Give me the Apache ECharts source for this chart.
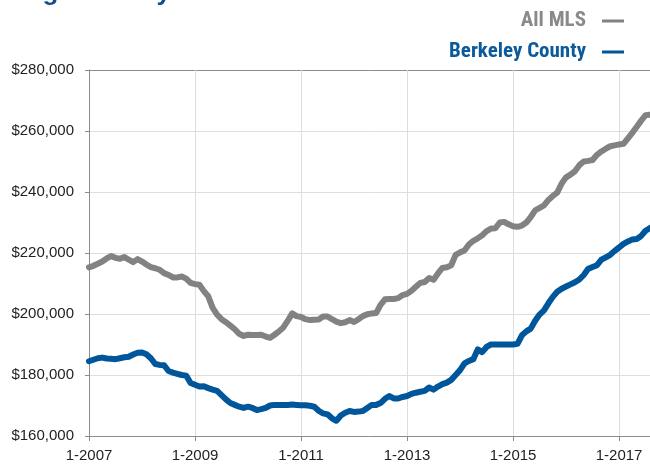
<!DOCTYPE html>
<html>
<head>
<meta charset="utf-8">
<script src="https://cdn.jsdelivr.net/npm/echarts@6/dist/echarts.min.js"></script>
<style>
html,body{margin:0;padding:0;background:#fff;}
#chart{width:650px;height:466px;}
</style>
</head>
<body>
<div id="chart"></div>
<script>
// Monthly data, Jan 2007 .. Aug 2017
var startYear = 2007;
var monthCount = 128;
var yTicks = [160000, 180000, 200000, 220000, 240000, 260000, 280000];

var allMLS = [
215.3,215.8,216.5,217.2,218.2,219.0,218.4,218.1,218.7,217.8,217.0,218.0,
217.2,216.2,215.4,215.0,214.5,213.4,212.8,212.0,212.0,212.3,211.6,210.2,
209.8,209.6,207.5,205.8,202.0,199.8,198.3,197.3,196.2,195.0,193.5,192.8,
193.2,193.1,193.1,193.2,192.6,192.2,193.2,194.3,195.6,197.8,200.2,199.3,
199.0,198.3,198.0,198.1,198.2,199.2,199.2,198.3,197.5,197.0,197.3,198.0,
197.4,198.3,199.3,199.9,200.2,200.3,203.0,204.8,204.9,204.9,205.2,206.2,
206.6,207.6,208.9,210.2,210.5,211.8,211.2,213.3,215.1,215.3,216.0,219.4,
220.2,220.8,222.8,224.0,224.8,225.8,227.2,228.0,228.1,230.0,230.2,229.4,
228.8,228.6,229.0,230.0,231.8,234.0,234.8,235.6,237.4,238.7,239.8,242.8,
244.8,245.7,246.8,248.8,250.0,250.2,250.5,252.2,253.3,254.2,255.0,255.3,
255.6,255.8,257.6,259.4,261.4,263.4,265.2,265.3
];

var berkeley = [
184.5,185.0,185.5,185.7,185.4,185.3,185.2,185.5,185.8,186.0,186.7,187.3,
187.4,186.8,185.5,183.6,183.3,183.2,181.3,180.8,180.4,180.0,179.8,177.4,
176.8,176.2,176.3,175.7,175.2,174.8,173.4,172.0,170.8,170.2,169.6,169.2,
169.6,169.2,168.5,168.8,169.2,170.0,170.2,170.2,170.2,170.2,170.3,170.2,
170.1,170.1,169.9,169.6,168.3,167.4,167.1,165.8,165.0,166.7,167.6,168.2,
167.9,168.0,168.2,169.2,170.2,170.2,170.8,172.2,173.1,172.3,172.3,172.8,
173.1,173.8,174.2,174.5,174.8,175.9,175.2,176.2,177.0,177.5,178.4,180.0,
181.6,183.8,184.6,185.2,188.4,187.5,189.2,190.0,190.0,190.0,190.0,190.0,
190.0,190.2,193.0,194.3,195.2,197.8,199.8,201.2,203.5,205.6,207.3,208.3,
209.0,209.7,210.4,211.3,212.8,214.8,215.4,216.0,217.8,218.6,219.4,220.7,
221.8,223.0,223.8,224.4,224.6,225.6,227.3,228.2
];

var seriesNames = ['All MLS', 'Berkeley County'];
var titleText = 'Single-Family Detached';

var categories = [];
for (var i = 0; i < monthCount; i++) {
  categories.push(((i % 12) + 1) + '-' + (startYear + Math.floor(i / 12)));
}

var chart = echarts.init(document.getElementById('chart'));
var font = '"Liberation Sans", Arial, Helvetica, sans-serif';
chart.setOption({
  animation: false,
  backgroundColor: '#fff',
  graphic: [{
    type: 'text',
    left: 2,
    top: -20,
    style: {
      text: titleText,
      font: 'bold 26px "Liberation Sans", Arial, sans-serif',
      fill: '#0d4f8b'
    }
  }],
  legend: {
    orient: 'vertical',
    align: 'right',
    right: 26,
    top: 10,
    padding: 0,
    itemWidth: 22,
    itemHeight: 3,
    itemGap: 9,
    icon: 'rect',
    textStyle: {
      fontFamily: '"Liberation Sans Narrow", "Roboto Condensed", Arial, sans-serif',
      fontWeight: 'bold',
      fontSize: 21,
      lineHeight: 22,
      padding: [0, 11, 0, 0]
    },
    data: [
      {name: seriesNames[0], textStyle: {color: '#8a8a8a'}},
      {name: seriesNames[1], textStyle: {color: '#0b5a9c'}}
    ]
  },
  grid: {left: 89, right: 0, top: 70, bottom: 30, containLabel: false},
  xAxis: {
    type: 'category',
    boundaryGap: false,
    data: categories,
    axisLine: {lineStyle: {color: '#8c8c8c', width: 1}},
    axisTick: {show: true, interval: 23, length: 5, lineStyle: {color: '#8c8c8c'}},
    axisLabel: {
      interval: 23,
      margin: 12,
      fontFamily: font,
      fontSize: 15,
      color: '#222',
      formatter: function (v) { return v.indexOf('1-') === 0 ? v : ''; }
    },
    splitLine: {show: true, interval: 23, lineStyle: {color: '#dedede', width: 1}}
  },
  yAxis: {
    type: 'value',
    min: yTicks[0],
    max: yTicks[yTicks.length - 1],
    interval: 20000,
    axisLine: {show: true, lineStyle: {color: '#8c8c8c', width: 1}},
    axisTick: {show: true, length: 4, lineStyle: {color: '#8c8c8c'}},
    axisLabel: {
      margin: 15,
      fontFamily: font,
      fontSize: 15,
      color: '#222',
      formatter: function (v) { return '$' + v.toLocaleString('en-US'); }
    },
    splitLine: {show: true, lineStyle: {color: ['#dedede','#dedede','#dedede','#dedede','#dedede','#dedede','#8c8c8c'], width: 1}}
  },
  series: [
    {
      name: seriesNames[0],
      type: 'line',
      data: allMLS.map(function (v) { return v * 1000; }),
      showSymbol: false,
      symbol: 'none',
      color: '#828282',
      lineStyle: {width: 6, color: '#828282', join: 'round', cap: 'round'}
    },
    {
      name: seriesNames[1],
      type: 'line',
      data: berkeley.map(function (v) { return v * 1000; }),
      showSymbol: false,
      symbol: 'none',
      color: '#00569a',
      lineStyle: {width: 6, color: '#00569a', join: 'round', cap: 'round'}
    }
  ]
});
</script>
</body>
</html>
